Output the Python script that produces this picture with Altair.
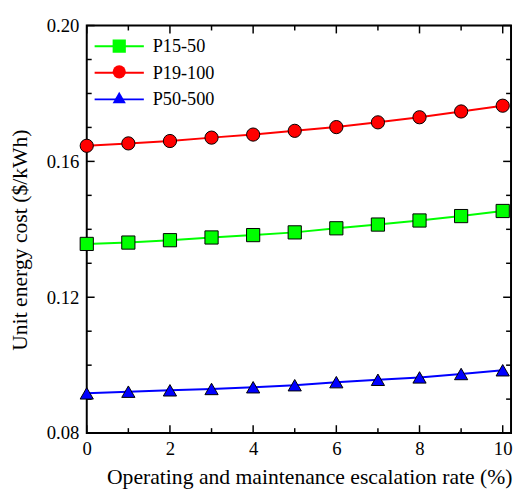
import altair as alt
import pandas as pd

rates = [0, 1, 2, 3, 4, 5, 6, 7, 8, 9, 10]
p15_50 = [0.1357, 0.1361, 0.1368, 0.1376, 0.1383, 0.1391, 0.1403, 0.1414, 0.1426, 0.1439, 0.1454]
p19_100 = [0.1646, 0.1653, 0.1660, 0.1670, 0.1679, 0.1690, 0.1701, 0.1715, 0.1730, 0.1747, 0.1764]
p50_500 = [0.0917, 0.0922, 0.0926, 0.0930, 0.0935, 0.0941, 0.0950, 0.0957, 0.0964, 0.0974, 0.0985]

series_names = ["P15-50", "P19-100", "P50-500"]
colors = ["#00ff00", "#ff0000", "#0000ff"]
shapes = ["square", "circle", "triangle-up"]

x_major = [0, 2, 4, 6, 8, 10]
x_minor = [1, 3, 5, 7, 9]
y_major = [0.08, 0.12, 0.16, 0.20]
y_minor = [0.09, 0.10, 0.11, 0.13, 0.14, 0.15, 0.17, 0.18, 0.19]
x_lo, x_hi = 0, 10.2
y_lo, y_hi = 0.08, 0.20

rows = []
for name, vals in zip(series_names, [p15_50, p19_100, p50_500]):
    for r, v in zip(rates, vals):
        rows.append({"series": name, "mk": name, "rate": r, "cost": v})
df = pd.DataFrame(rows)

# one table of frame tick positions (side + major/minor kind)
tick_rows = []
for kind, xs, ys in (("major", x_major, y_major), ("minor", x_minor, y_minor)):
    for v in xs:
        tick_rows.append({"tx": v, "ty": y_lo, "side": "bottom", "kind": kind})
        tick_rows.append({"tx": v, "ty": y_hi, "side": "top", "kind": kind})
    for v in ys:
        tick_rows.append({"tx": x_lo, "ty": v, "side": "left", "kind": kind})
        tick_rows.append({"tx": x_hi, "ty": v, "side": "right", "kind": kind})
tick_df = pd.DataFrame(tick_rows)

W, H = 431, 414
FONT = "Liberation Serif"
xscale = alt.Scale(domain=[x_lo, x_hi], nice=False, zero=False)
yscale = alt.Scale(domain=[y_lo, y_hi], nice=False, zero=False)

base = alt.Chart(df)

main_x = alt.Axis(orient="bottom", values=x_major, format="d", ticks=False, domain=False,
                  grid=False, labelPadding=7, labelFlush=False,
                  title="Operating and maintenance escalation rate (%)",
                  titleBaseline="alphabetic", titleY=51, titleX=226)
main_y = alt.Axis(orient="left", values=y_major, format=".2f", ticks=False, domain=False,
                  grid=False, labelPadding=8, labelFlush=False,
                  title="Unit energy cost ($/kWh)", titleX=-61, titleY=217.5,
                  titleBaseline="alphabetic")

lines = base.mark_line(strokeWidth=2).encode(
    x=alt.X("rate:Q", scale=xscale, axis=main_x),
    y=alt.Y("cost:Q", scale=yscale, axis=main_y),
    color=alt.Color("series:N", scale=alt.Scale(range=colors),
                    legend=alt.Legend(orient="none", legendX=7, legendY=12, title=None,
                                      symbolType="stroke", symbolSize=2500,
                                      symbolStrokeWidth=2, labelFont=FONT,
                                      labelFontSize=18.5, labelOffset=8, rowPadding=8,
                                      clipHeight=18, padding=0, labelColor="black",
                                      zindex=1)),
)

mk_legend = alt.Legend(orient="none", legendX=25.5, legendY=12, title=None,
                       symbolSize=180, symbolStrokeColor="black", symbolStrokeWidth=1,
                       labelFont=FONT, labelFontSize=1, labelOffset=0, rowPadding=8,
                       clipHeight=18, padding=0, labelOpacity=0, zindex=2)

points = base.mark_point(filled=True, stroke="black", strokeWidth=1, opacity=1, size=180).encode(
    x=alt.X("rate:Q", scale=xscale),
    y=alt.Y("cost:Q", scale=yscale),
    fill=alt.Fill("mk:N", scale=alt.Scale(domain=series_names, range=colors), legend=mk_legend),
    shape=alt.Shape("mk:N", scale=alt.Scale(domain=series_names, range=shapes), legend=mk_legend),
)

# inward ticks: a one-sided line symbol anchored on the frame, rotated per side
ticks = alt.Chart(tick_df).transform_calculate(
    ang="datum.side == 'bottom' ? 0 : datum.side == 'top' ? 180 : datum.side == 'left' ? 90 : 270",
    sz="datum.kind == 'major' ? 256 : 100",
).mark_point(
    shape="M0,0L0,-1", filled=False, stroke="black", strokeWidth=1.5, opacity=1,
).encode(
    x=alt.X("tx:Q", scale=xscale),
    y=alt.Y("ty:Q", scale=yscale),
    angle=alt.Angle("ang:Q", scale=None),
    size=alt.Size("sz:Q", scale=None),
)

chart = alt.layer(ticks, lines, points).properties(
    width=W, height=H,
    autosize=alt.AutoSizeParams(type="none"),
    padding={"left": 80, "top": 14, "right": 2, "bottom": 55},
).configure_view(stroke="black", strokeWidth=2).configure_axis(
    labelFont=FONT, labelFontSize=19, labelColor="black",
    titleFont=FONT, titleFontSize=22, titleFontWeight="normal", titleColor="black",
)

chart.save("out.html", embed_options={"renderer": "svg", "actions": False})
